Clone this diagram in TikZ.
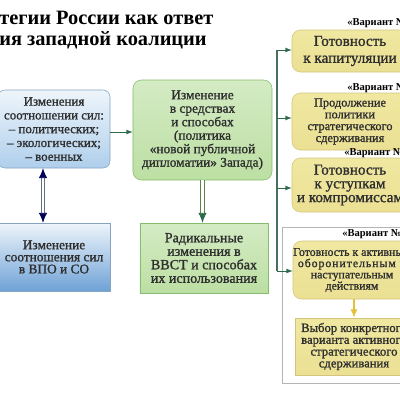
\documentclass[tikz,border=0pt]{standalone}
\usepackage{fontspec}
\setmainfont{Liberation Serif}
\newfontfamily\plotnyj[FakeBold=1.2]{Liberation Serif}
\usetikzlibrary{positioning,arrows.meta}

\definecolor{tekst}{HTML}{2E2E2E}
\definecolor{sinkant}{HTML}{86A3BF}
\definecolor{sinverh}{HTML}{EEF5FB}
\definecolor{sinniz}{HTML}{AFCFEC}
\definecolor{sinniz2}{HTML}{6FA2D6}
\definecolor{zelkant}{HTML}{86BC6E}
\definecolor{zelverh}{HTML}{D4EBC4}
\definecolor{zelsred}{HTML}{F3F9EE}
\definecolor{zelniz}{HTML}{BCDFA3}
\definecolor{zhelkant}{HTML}{D3C67C}
\definecolor{zhelverh}{HTML}{F0E8A2}
\definecolor{zhelsred}{HTML}{FCF9DD}
\definecolor{zhelniz}{HTML}{EBE093}
\definecolor{strel}{HTML}{2D6A4B}
\definecolor{ramka}{HTML}{B4B4B4}

\begin{document}
\begin{tikzpicture}[
  x=0.25mm, y=-0.25mm,
  blok/.style     = {align=center, inner sep=0pt, text=tekst},
  sinij/.style    = {blok, draw=sinkant, top color=sinverh, bottom color=sinniz},
  zelenyj/.style  = {blok, draw=zelkant, top color=zelverh, middle color=zelsred, bottom color=zelniz},
  zheltyj/.style  = {blok, draw=zhelkant, top color=zhelverh, middle color=zhelsred, bottom color=zhelniz},
  strelka/.style  = {-latex, semithick, draw=strel},
  dvojnaja/.style = {double=white, double distance=2pt, line width=0.6pt},
  variant/.style  = {anchor=west, inner sep=0pt, text=black, font=\bfseries\fontsize{7.5}{8}\selectfont},
  zagolovok/.style= {anchor=west, inner sep=0pt, align=left, font=\bfseries\fontsize{14.5}{15}\selectfont}
]
\useasboundingbox (0,0) rectangle (400,400);
\clip (0,0) rectangle (400,400);

% заголовок
\node[zagolovok] (zag1) at (-1,18) {тегии России как ответ};
\node[zagolovok] (zag2) at (-1,40) {ия западной коалиции};

% левая колонка
\node[sinij, rounded corners=5pt, minimum width=28mm, minimum height=19.5mm,
      font=\plotnyj\fontsize{9.2}{9.8}\selectfont] (sin1) at (54,129)
  {Изменения\\соотношении сил:\\– политических;\\– экологических;\\– военных};
\node[sinij, bottom color=sinniz2, minimum width=28mm, minimum height=17mm,
      font=\plotnyj\fontsize{9.5}{8.6}\selectfont] (sin2) at (54,257)
  {Изменение\\соотношения сил\\в ВПО и СО};

% средняя колонка
\node[zelenyj, rounded corners=6pt, minimum width=34.75mm, minimum height=25mm,
      font=\plotnyj\fontsize{9.5}{9.6}\selectfont] (zel1) at (202.5,130)
  {Изменение\\в средствах\\и способах\\(политика\\«новой публичной\\дипломатии» Запада)};
\node[zelenyj, minimum width=32mm, minimum height=17.5mm,
      font=\plotnyj\fontsize{10}{9.6}\selectfont] (zel2) at (204,258)
  {Радикальные\\изменения в\\ВВСТ и способах\\их использования};

% правая колонка
\node[zheltyj, rounded corners=6pt, minimum width=29mm, minimum height=10.5mm,
      font=\plotnyj\fontsize{10.8}{12}\selectfont] (zh1) at (350,51)
  {Готовность\\к капитуляции};
\node[zheltyj, rounded corners=6pt, minimum width=29mm, minimum height=14.25mm,
      font=\plotnyj\fontsize{8.8}{8.4}\selectfont] (zh2) at (350,121.5)
  {Продолжение\\политики\\стратегического\\сдерживания};
\node[zheltyj, rounded corners=6pt, minimum width=29mm, minimum height=13.5mm,
      font=\plotnyj\fontsize{10.8}{9.8}\selectfont] (zh3) at (350,185)
  {Готовность\\к уступкам\\и компромиссам};
\draw[draw=ramka, line width=0.7pt] (282,227) rectangle (412,383);
\node[zheltyj, rounded corners=6pt, minimum width=29.5mm, minimum height=14.5mm,
      font=\plotnyj\fontsize{8.4}{8}\selectfont] (zh4) at (352,270)
  {Готовность к активным\\{\addfontfeature{LetterSpace=8}оборонительным и}\\наступательным\\действиям};
\node[zheltyj, minimum width=29.25mm, minimum height=14.25mm,
      font=\plotnyj\fontsize{9}{8.4}\selectfont] (zh5) at (354,346.5)
  {Выбор конкретного\\варианта активного\\стратегического\\сдерживания};

\node[variant] (var1) at (347,23)  {«Вариант №};
\node[variant] (var2) at (347,88)  {«Вариант №};
\node[variant] (var3) at (344,153) {«Вариант №};
\node[variant] (var4) at (342,234) {«Вариант №};

% связи
\draw[strelka] (sin1.east |- 0,132) -- (zel1.west |- 0,132);
\draw[dvojnaja, draw=sinkant!70!black,
      {Latex[length=7pt,width=6pt,color=blue!35!black]}-{Latex[length=7pt,width=6pt,color=blue!35!black]}]
  (sin1.south -| 43,0) -- (sin2.north -| 43,0);
\draw[dvojnaja, draw=zelkant!70!black, -{Latex[length=7pt,width=6pt,color=strel]}]
  (zel1.south) -- (zel1.south |- zel2.north);

\coordinate (v1) at (277,50);
\coordinate (v2) at (277,118);
\coordinate (v3) at (277,188);
\coordinate (v4) at (277,271);
\draw[strel!70!gray, line width=0.9pt] (v1) -- (v4);
\draw[strelka] (v1) -- (v1 -| zh1.west);
\draw[strelka] (v2) -- (v2 -| zh2.west);
\draw[strelka] (v3) -- (v3 -| zh3.west);
\draw[strelka] (v4) -- (v4 -| zh4.west);
\draw[-{Latex[length=6pt,width=5pt]}, line width=1pt, draw=yellow!50!brown] (zh4.south -| zh5.north) -- (zh5.north);
\end{tikzpicture}
\end{document}
